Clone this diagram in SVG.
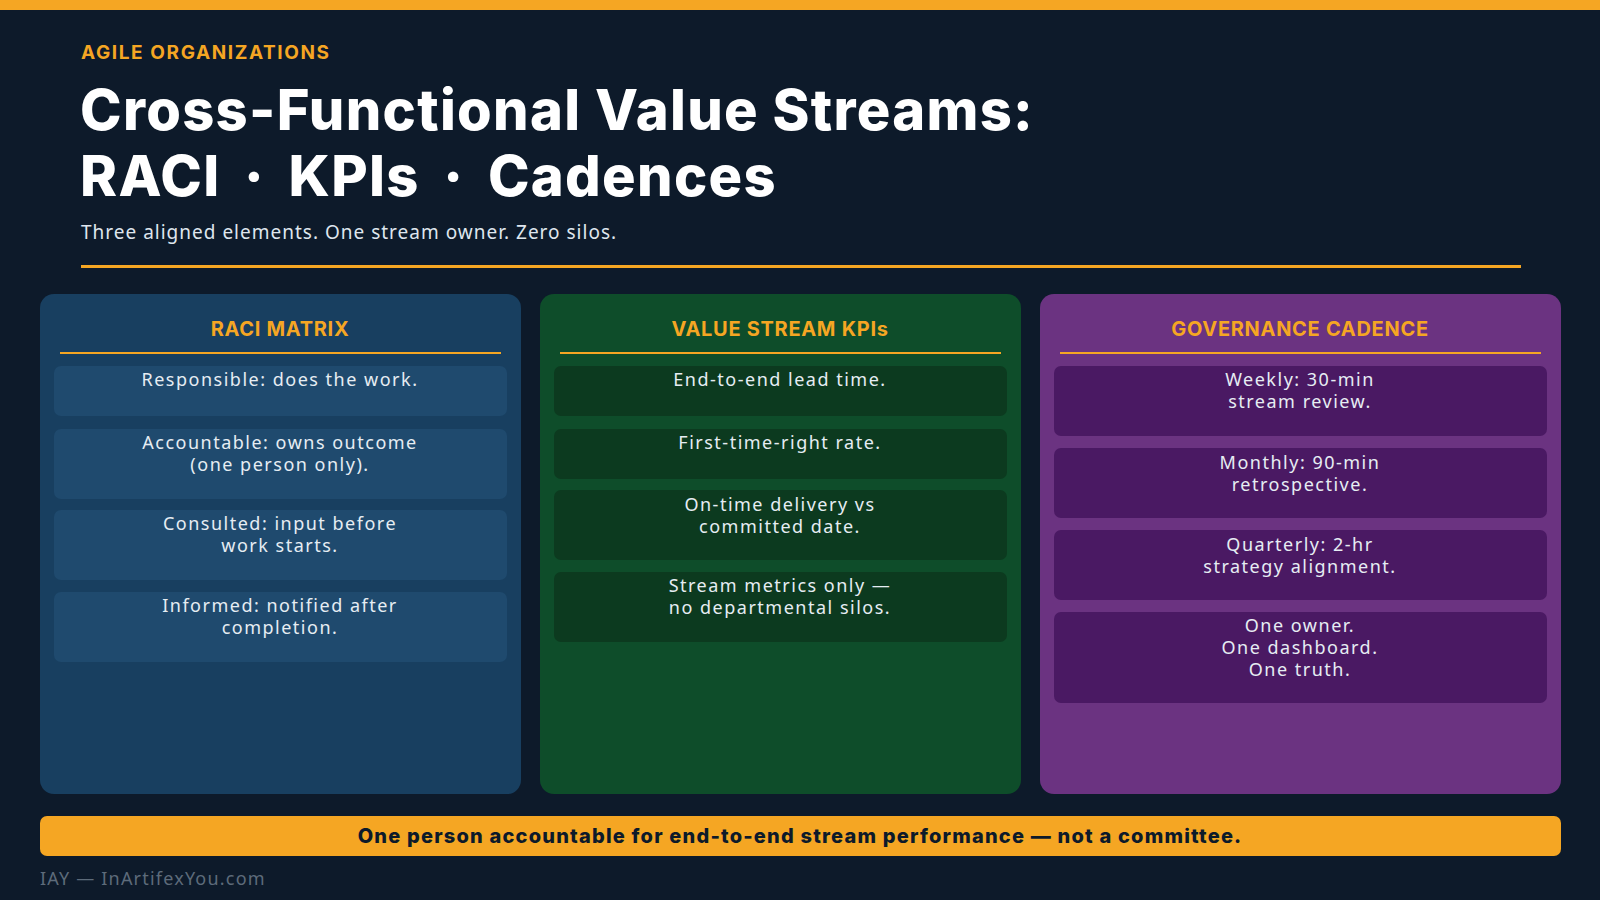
<svg xmlns="http://www.w3.org/2000/svg" width="1600" height="900" viewBox="0 0 1600 900">
<style>
.t{font-family:Inter,"Liberation Sans",sans-serif}
.h{font-family:Inter,"Liberation Sans",sans-serif;font-weight:700;fill:#f5a623;font-size:20px;text-anchor:middle;letter-spacing:0.7px}
.c{font-family:"Noto Sans","Liberation Sans",sans-serif;font-size:18px;fill:#e6edf3;text-anchor:middle;letter-spacing:1.5px}
.c1{fill:#1f4a6e}.c2{fill:#0c3a1f}.c3{fill:#4a1963}
</style>
<rect width="1600" height="900" fill="#0d1a2a"/>
<rect width="1600" height="10" fill="#f5a623"/>
<text class="t" x="81" y="59" font-size="19" font-weight="700" fill="#f5a623" letter-spacing="1.6">AGILE ORGANIZATIONS</text>
<text class="t" x="80" y="130" font-size="56" font-weight="800" fill="#ffffff" letter-spacing="1.3">Cross-Functional Value Streams:</text>
<text class="t" x="80" y="196" font-size="56" font-weight="800" fill="#ffffff" letter-spacing="1.3" word-spacing="10">RACI · KPIs · Cadences</text>
<text x="81" y="239" font-family="Noto Sans,Liberation Sans,sans-serif" font-size="19" fill="#dfe6ee" letter-spacing="1">Three aligned elements. One stream owner. Zero silos.</text>
<rect x="81" y="265" width="1440" height="3" fill="#f5a623"/>
<g id="raci">
<rect x="40" y="294" width="481" height="500" rx="14" fill="#183f60"/>
<text class="h" x="280" y="336">RACI MATRIX</text>
<rect x="60" y="352" width="441" height="2" fill="#f5a623"/>
<rect class="c1" x="54" y="366" width="453" height="50" rx="7"/>
<text class="c" x="280" y="386">Responsible: does the work.</text>
<rect class="c1" x="54" y="429" width="453" height="70" rx="7"/>
<text class="c" x="280" y="449">Accountable: owns outcome</text><text class="c" x="280" y="471">(one person only).</text>
<rect class="c1" x="54" y="510" width="453" height="70" rx="7"/>
<text class="c" x="280" y="530">Consulted: input before</text><text class="c" x="280" y="552">work starts.</text>
<rect class="c1" x="54" y="592" width="453" height="70" rx="7"/>
<text class="c" x="280" y="612">Informed: notified after</text><text class="c" x="280" y="634">completion.</text>
</g>
<g id="kpis">
<rect x="540" y="294" width="481" height="500" rx="14" fill="#0e4d2a"/>
<text class="h" x="780" y="336">VALUE STREAM KPIs</text>
<rect x="560" y="352" width="441" height="2" fill="#f5a623"/>
<rect class="c2" x="554" y="366" width="453" height="50" rx="7"/>
<text class="c" x="780" y="386">End-to-end lead time.</text>
<rect class="c2" x="554" y="429" width="453" height="50" rx="7"/>
<text class="c" x="780" y="449">First-time-right rate.</text>
<rect class="c2" x="554" y="490" width="453" height="70" rx="7"/>
<text class="c" x="780" y="511">On-time delivery vs</text><text class="c" x="780" y="533">committed date.</text>
<rect class="c2" x="554" y="572" width="453" height="70" rx="7"/>
<text class="c" x="780" y="592">Stream metrics only —</text><text class="c" x="780" y="614">no departmental silos.</text>
</g>
<g id="cadence">
<rect x="1040" y="294" width="521" height="500" rx="14" fill="#6b3381"/>
<text class="h" x="1300" y="336">GOVERNANCE CADENCE</text>
<rect x="1060" y="352" width="481" height="2" fill="#f5a623"/>
<rect class="c3" x="1054" y="366" width="493" height="70" rx="7"/>
<text class="c" x="1300" y="386">Weekly: 30-min</text><text class="c" x="1300" y="408">stream review.</text>
<rect class="c3" x="1054" y="448" width="493" height="70" rx="7"/>
<text class="c" x="1300" y="469">Monthly: 90-min</text><text class="c" x="1300" y="491">retrospective.</text>
<rect class="c3" x="1054" y="530" width="493" height="70" rx="7"/>
<text class="c" x="1300" y="551">Quarterly: 2-hr</text><text class="c" x="1300" y="573">strategy alignment.</text>
<rect class="c3" x="1054" y="612" width="493" height="91" rx="7"/>
<text class="c" x="1300" y="632">One owner.</text><text class="c" x="1300" y="654">One dashboard.</text><text class="c" x="1300" y="676">One truth.</text>
</g>
<g id="banner">
<rect x="40" y="816" width="1521" height="40" rx="7" fill="#f5a623"/>
<text class="t" x="800" y="843" font-size="20" font-weight="800" fill="#0d1a2a" text-anchor="middle" letter-spacing="1.2">One person accountable for end-to-end stream performance — not a committee.</text>
</g>
<text x="40" y="885" font-family="Noto Sans,Liberation Sans,sans-serif" font-size="18" fill="#5d6b7a" letter-spacing="1.2">IAY — InArtifexYou.com</text>
</svg>
